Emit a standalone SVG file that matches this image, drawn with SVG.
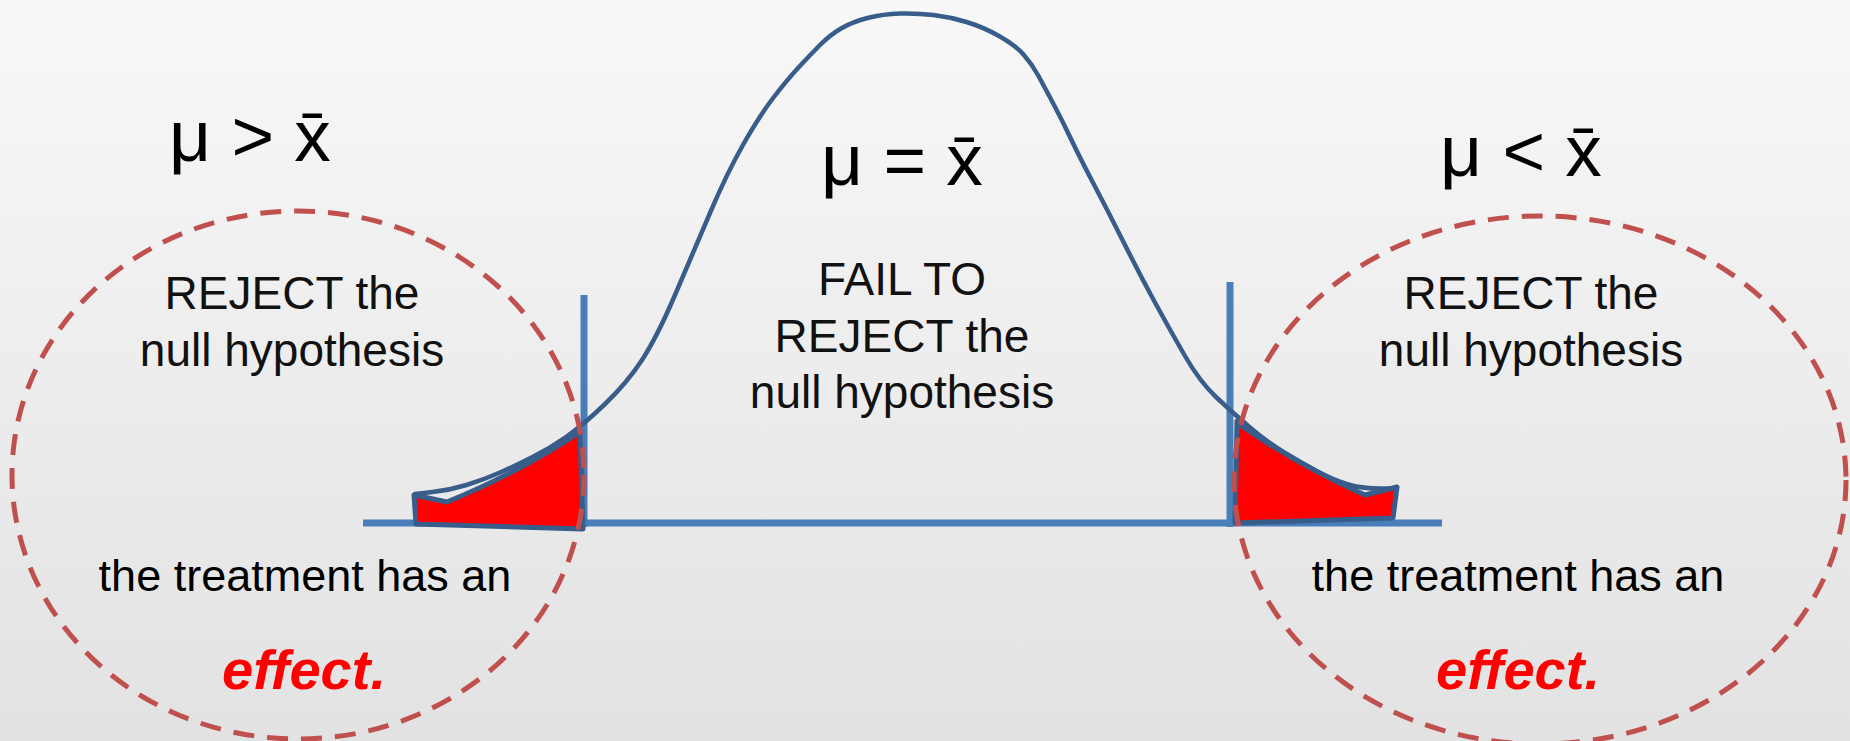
<svg xmlns="http://www.w3.org/2000/svg" width="1850" height="741" viewBox="0 0 1850 741">
<defs>
<linearGradient id="bg" x1="0" y1="0" x2="0" y2="1">
<stop offset="0" stop-color="#f8f8f8"/>
<stop offset="1" stop-color="#e2e2e2"/>
</linearGradient>
</defs>
<style>
.axis{stroke:#4a7ebb;stroke-width:7;fill:none}
.curve{stroke:#385d8a;stroke-width:4.5;fill:none;stroke-linejoin:round;stroke-linecap:round}
.tail{fill:#ff0000;stroke:#385d8a;stroke-width:5;stroke-linejoin:round}
.ring{fill:none;stroke:#c0504d;stroke-width:5;stroke-dasharray:21 13}
.mu{font-family:"Liberation Sans",Arial,sans-serif;font-size:73px;fill:#000;text-anchor:middle}
.lab{font-family:"Liberation Sans",Arial,sans-serif;font-size:46px;fill:#111;text-anchor:middle}
.sub{font-family:"Liberation Sans",Arial,sans-serif;font-size:45px;fill:#000;text-anchor:middle}
.eff{font-family:"Liberation Sans",Arial,sans-serif;font-size:56px;font-weight:bold;font-style:italic;fill:#ff0000;text-anchor:middle}
</style>
<rect x="0" y="0" width="1850" height="741" fill="url(#bg)"/>
<g id="connectors">
<line class="axis" x1="363" y1="523" x2="1442" y2="523"/>
<line class="axis" x1="584" y1="295" x2="584" y2="527"/>
<line class="axis" x1="1230" y1="282" x2="1230" y2="527"/>
</g>
<g id="left-tail">
<path class="tail" d="M416,524 L414,495 L447,502 Q520,472 580,432 L583,529 Z"/>
</g>
<g id="right-tail">
<path class="tail" d="M1237,421 L1235,523 L1393,518 L1397,487 L1365,495 Q1300,466 1243,427 Z"/>
</g>
<g id="bell-curve">
<path class="curve" d="M415,494 L432.5,492 Q450,490 466.5,485 Q483,480 500,472.5 Q517,465 533.5,456.5 Q550,448 566,437 Q582,426 604.5,404.5 Q627,383 642,360 Q657,337 675,295 Q693,253 710,213 Q727,173 743.5,144 Q760,115 773.5,97.5 Q787,80 798.5,67.5 Q810,55 820,45 Q830,35 841,28.5 Q852,22 867.5,18 Q883,14 900,13.5 Q917,13 933.5,15 Q950,17 966.5,22 Q983,27 999,36 Q1015,45 1023.5,54.5 Q1032,64 1038.5,76 Q1045,88 1053.5,104 Q1062,120 1071,139 Q1080,158 1095,186.5 Q1110,215 1125,245 Q1140,275 1155,302.5 Q1170,330 1185,356 Q1200,382 1216.5,397.5 Q1233,413 1250,427.5 Q1267,442 1283.5,452 Q1300,462 1316.5,471 Q1333,480 1350,485 Q1367,490 1397,488"/>
</g>
<g id="left-region">
<ellipse class="ring" cx="298" cy="475" rx="286" ry="264"/>
<text class="mu" x="250" y="161">μ &gt; x&#x304;</text>
<text class="lab" x="292" y="309">REJECT the</text>
<text class="lab" x="292" y="366">null hypothesis</text>
<text class="sub" x="305" y="591">the treatment has an</text>
<text class="eff" x="304" y="689">effect.</text>
</g>
<g id="center-region">
<text class="mu" x="902" y="185">μ = x&#x304;</text>
<text class="lab" x="902" y="295">FAIL TO</text>
<text class="lab" x="902" y="352">REJECT the</text>
<text class="lab" x="902" y="408">null hypothesis</text>
</g>
<g id="right-region">
<ellipse class="ring" cx="1540" cy="480" rx="306" ry="264"/>
<text class="mu" x="1521" y="176">μ &lt; x&#x304;</text>
<text class="lab" x="1531" y="309">REJECT the</text>
<text class="lab" x="1531" y="366">null hypothesis</text>
<text class="sub" x="1518" y="591">the treatment has an</text>
<text class="eff" x="1518" y="689">effect.</text>
</g>
</svg>
